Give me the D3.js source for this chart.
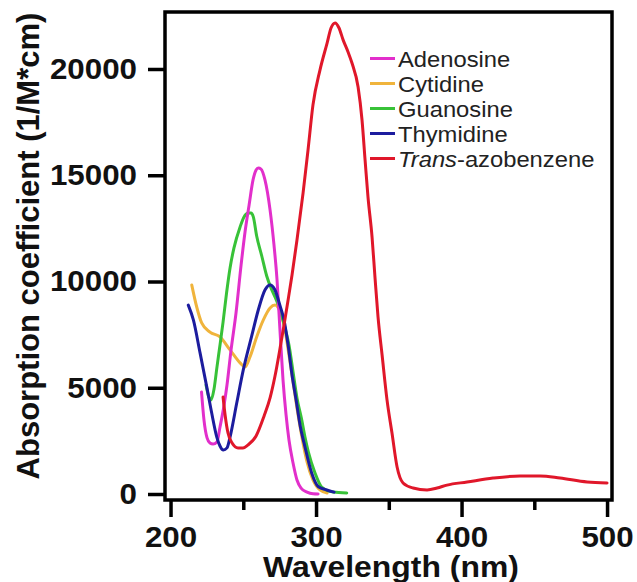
<!DOCTYPE html>
<html>
<head>
<meta charset="utf-8">
<script src="https://cdn.jsdelivr.net/npm/d3@7"></script>
<style>
  body { margin: 0; background: #fff; }
  svg { display: block; }
  text { font-family: "Liberation Sans", Arial, Helvetica, sans-serif; }
</style>
</head>
<body>
<svg id="chart" width="637" height="582"></svg>
<script>
// Molar absorption spectra: [wavelength (nm), absorption coefficient (1/M*cm)]
const adenosine = [
  [221.3,4800],[223.0,3480],[225.1,2640],[227.1,2400],[229.2,2350],[231.9,2450],
  [234.0,3150],[236.8,4190],[238.8,5130],[241.6,6780],[245.0,8520],[248.5,10780],
  [251.2,12330],[254.0,13600],[256.7,14780],[258.8,15250],[260.3,15340],[262.2,15290],
  [264.9,14780],[268.4,13370],[271.1,11720],[273.2,10070],[275.2,7720],[277.3,5370],
  [279.4,3720],[281.4,2540],[284.2,1460],[286.9,660],[289.7,280],[293.8,90],
  [297.9,10],[301.4,0]
];
const cytidine = [
  [214.6,9835],[218.0,8800],[221.4,8050],[227.1,7620],[234.0,7390],[240.9,6780],
  [247.8,6170],[251.2,5980],[254.6,6450],[259.2,7390],[263.8,8190],[268.4,8750],
  [271.8,8890],[275.3,8570],[278.7,7720],[281.4,6540],[284.2,5270],[286.9,4050],
  [290.4,2640],[293.8,1510],[297.9,660],[302.7,190],[307.6,50]
];
const guanosine = [
  [224.4,5130],[226.1,4610],[227.8,4420],[229.9,4940],[232.0,6020],[234.0,7010],
  [236.1,8090],[238.5,9460],[240.9,10640],[243.6,11580],[247.8,12570],[250.5,13040],
  [253.5,13220],[255.3,13220],[256.9,13040],[259.2,12140],[262.7,11200],[266.1,10260],
  [269.1,9690],[271.8,9270],[275.3,8660],[278.7,7810],[281.4,7010],[284.2,5740],
  [286.9,4520],[290.2,3480],[292.4,2680],[294.7,1980],[299.3,990],[303.9,330],
  [311.7,90],[321.1,50]
];
const thymidine = [
  [212.2,8890],[215.7,8190],[220.3,6640],[224.9,5040],[228.3,3810],[231.8,2680],
  [234.0,2260],[236.3,2070],[238.8,2170],[240.9,2680],[245.5,4280],[250.0,5840],
  [255.8,7440],[260.3,8660],[264.9,9600],[268.4,9840],[271.8,9600],[275.3,8850],
  [278.0,8190],[280.8,7010],[283.5,5600],[286.3,4420],[289.0,3250],[292.4,2210],
  [297.0,990],[301.6,340],[307.4,190],[312.4,90]
];
const azobenzene = [
  [236.1,4565],[237.5,3720],[239.5,2870],[242.3,2400],[246.4,2165],[249.8,2165],
  [253.3,2310],[258.8,2730],[264.3,3670],[268.4,4520],[271.8,5550],[275.3,6870],
  [278.0,7950],[280.8,9130],[283.5,10310],[286.9,11950],[291.1,14170],[294.5,16190],
  [297.9,18310],[302.7,19950],[307.6,21220],[310.3,21930],[313.1,22170],[315.8,21930],
  [318.6,21370],[322.0,20800],[324.7,20280],[328.9,19150],[331.6,17600],[333.7,15720],
  [335.7,13980],[338.5,12090],[340.5,10210],[342.6,8330],[345.4,6540],[348.8,4420],
  [352.2,2870],[355.7,1270],[359.8,520],[366.7,280],[376.3,190],[383.2,280],
  [390.0,420],[403.8,565],[421.6,750],[440.2,850],[454.0,850],[467.7,750],
  [486.3,565],[500.0,520]
];

const seriesNames  = ["Adenosine", "Cytidine", "Guanosine", "Thymidine", "Trans-azobenzene"];
const seriesValues = [adenosine, cytidine, guanosine, thymidine, azobenzene];
const seriesColors = ["#e22fcb", "#f0b43c", "#38c238", "#1c1c9e", "#e0172a"];
const drawOrder    = [1, 2, 0, 3, 4];

const wavelengthTicks = [200, 300, 400, 500];
const wavelengthMinor = [250, 350, 450];
const absorptionTicks = [0, 5000, 10000, 15000, 20000];

const svg = d3.select("#chart");
const plotLeft = 165, plotRight = 612, plotTop = 12, plotBottom = 500;

const x = d3.scaleLinear().domain([196.2, 503.4]).range([plotLeft, plotRight]);
const y = d3.scaleLinear().domain([-282, 22682]).range([plotBottom, plotTop]);

// widen glyphs horizontally a little
function stretch(sel, k) {
  sel.each(function () {
    const w = this.getComputedTextLength();
    d3.select(this).attr("textLength", w * k).attr("lengthAdjust", "spacingAndGlyphs");
  });
}

// spectra
const line = d3.line()
  .x(d => x(d[0]))
  .y(d => y(d[1]))
  .curve(d3.curveMonotoneX);

svg.append("g").selectAll("path")
  .data(drawOrder)
  .join("path")
  .attr("d", i => line(seriesValues[i]))
  .attr("fill", "none")
  .attr("stroke", i => seriesColors[i])
  .attr("stroke-width", 3)
  .attr("stroke-linejoin", "round")
  .attr("stroke-linecap", "round");

// axes
const xAxis = svg.append("g")
  .attr("transform", `translate(0,${plotBottom})`)
  .call(d3.axisBottom(x).tickValues(wavelengthTicks).tickFormat(d3.format("d"))
    .tickSize(17).tickPadding(9));
const xMinor = svg.append("g")
  .attr("transform", `translate(0,${plotBottom})`)
  .call(d3.axisBottom(x).tickValues(wavelengthMinor).tickSize(10).tickFormat(""));
const yAxis = svg.append("g")
  .attr("transform", `translate(${plotLeft},0)`)
  .call(d3.axisLeft(y).tickValues(absorptionTicks).tickFormat(d3.format("d"))
    .tickSize(17).tickPadding(11));

[xAxis, xMinor, yAxis].forEach(g => {
  g.select(".domain").remove();
  g.selectAll(".tick line").attr("stroke", "#000").attr("stroke-width", 3.5);
});
[xAxis, yAxis].forEach(g => {
  g.selectAll(".tick text")
    .attr("fill", "#111")
    .style("font-size", "29px")
    .style("font-weight", "bold")
    .call(stretch, 1.08);
});

// frame
svg.append("rect")
  .attr("x", plotLeft).attr("y", plotTop)
  .attr("width", plotRight - plotLeft).attr("height", plotBottom - plotTop)
  .attr("fill", "none").attr("stroke", "#000").attr("stroke-width", 3.5);

// axis titles
svg.append("text")
  .attr("x", 391).attr("y", 577)
  .attr("text-anchor", "middle")
  .attr("fill", "#111")
  .style("font-size", "29px").style("font-weight", "bold")
  .text("Wavelength (nm)")
  .call(stretch, 1.1);

svg.append("text")
  .attr("transform", "translate(39,246) rotate(-90)")
  .attr("text-anchor", "middle")
  .attr("fill", "#111")
  .style("font-size", "31px").style("font-weight", "bold")
  .text("Absorption coefficient (1/M*cm)");

// legend
const legend = svg.append("g").attr("transform", "translate(370,58.5)");
const rows = legend.selectAll("g")
  .data(seriesNames)
  .join("g")
  .attr("transform", (d, i) => `translate(0,${i * 25})`);
rows.append("line")
  .attr("x1", 0).attr("x2", 25)
  .attr("stroke", (d, i) => seriesColors[i])
  .attr("stroke-width", 3);
rows.append("text")
  .attr("x", 28).attr("y", 8)
  .attr("fill", "#222")
  .style("font-size", "22px")
  .each(function (d) {
    const t = d3.select(this);
    const m = d.match(/^(Trans)(-.*)$/);
    if (m) {
      t.append("tspan").style("font-style", "italic").text(m[1]);
      t.append("tspan").text(m[2]);
    } else {
      t.text(d);
    }
  })
  .call(stretch, 1.08);
</script>
</body>
</html>
